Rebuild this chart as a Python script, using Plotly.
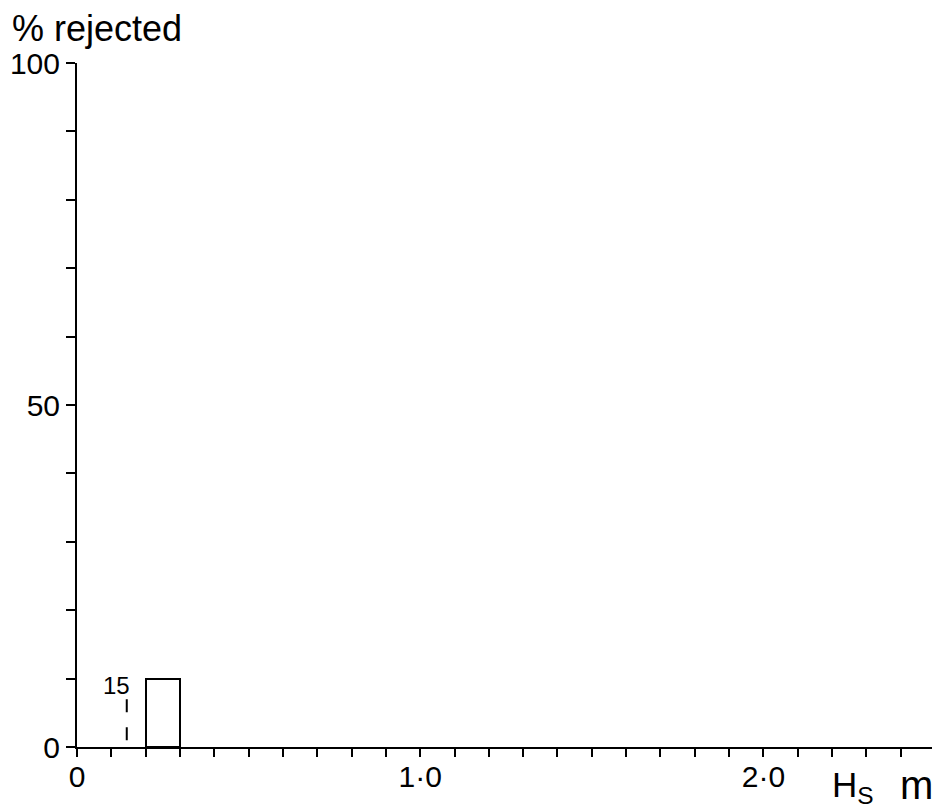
import plotly.graph_objects as go

# data
bar_centers = [0.25]
bar_widths = [0.1]
bar_heights = [10]
count_label = "15"
count_label_x = 0.115
count_label_y = 9.0
dash_x = [0.145, 0.145]
dash_y = [1, 7]

x_ticks = [round(i * 0.1, 1) for i in range(26)]
x_ticklabels = ["0" if v == 0 else ("1·0" if v == 1.0 else ("2·0" if v == 2.0 else "")) for v in x_ticks]
y_ticks = list(range(0, 101, 10))
y_ticklabels = [str(v) if v in (0, 50, 100) else "" for v in y_ticks]

FONT = "Liberation Sans, Arial, Helvetica, sans-serif"

fig = go.Figure()
fig.add_trace(go.Bar(x=bar_centers, y=bar_heights, width=bar_widths,
                     marker=dict(color="white", line=dict(color="black", width=2)),
                     showlegend=False, hoverinfo="skip"))
fig.add_trace(go.Scatter(x=dash_x, y=dash_y, mode="lines",
                         line=dict(color="black", width=2, dash="13px,15px"),
                         showlegend=False, hoverinfo="skip"))

fig.add_annotation(x=count_label_x, y=count_label_y, text=count_label, showarrow=False,
                   font=dict(family=FONT, size=24, color="black"), xanchor="center", yanchor="middle")
fig.add_annotation(xref="paper", yref="paper", x=-0.078, y=1.051, text="% rejected",
                   showarrow=False, xanchor="left", yanchor="middle",
                   font=dict(family=FONT, size=36, color="black"))
fig.add_annotation(xref="paper", yref="paper", x=0.878, y=-0.058, text="H<sub>S</sub>",
                   showarrow=False, xanchor="left", yanchor="middle",
                   font=dict(family=FONT, size=35, color="black"))
fig.add_annotation(xref="paper", yref="paper", x=1.0, y=-0.056, text="m",
                   showarrow=False, xanchor="right", yanchor="middle",
                   font=dict(family=FONT, size=40, color="black"))

# page body has an 8px margin: figure is shrunk so the plot area sits at page px 77..935 x 63..747
fig.update_layout(
    width=932, height=802,
    margin=dict(l=69, r=5, t=55, b=63, autoexpand=False),
    paper_bgcolor="white", plot_bgcolor="white",
    bargap=0,
    xaxis=dict(range=[0, 2.5], tickvals=x_ticks, ticktext=x_ticklabels, ticks="outside",
               ticklen=8, tickwidth=2, tickcolor="black", showline=True, linecolor="black",
               linewidth=2, showgrid=False, zeroline=False, automargin=False,
               ticklabelstandoff=-6,
               tickfont=dict(family=FONT, size=30, color="black")),
    yaxis=dict(range=[0, 100], tickvals=y_ticks, ticktext=y_ticklabels, ticks="outside",
               ticklen=9, tickwidth=2, tickcolor="black", showline=True, linecolor="black",
               linewidth=2, showgrid=False, zeroline=False, automargin=False,
               tickfont=dict(family=FONT, size=30, color="black")),
)

fig.write_html("out.html")
